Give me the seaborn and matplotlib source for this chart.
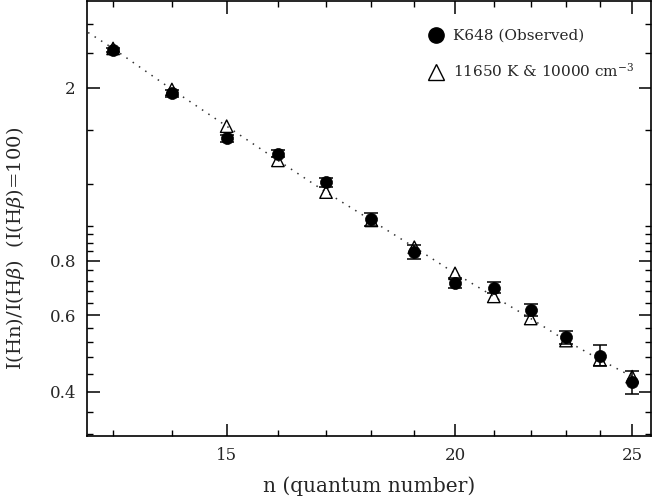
import numpy as np
import pandas as pd
import matplotlib
matplotlib.use("Agg")
import matplotlib.pyplot as plt
from matplotlib.ticker import FixedLocator, FixedFormatter, NullFormatter
from matplotlib.lines import Line2D
import seaborn as sns

# Balmer line intensities relative to H-beta (H-beta = 100)
n_levels = [13, 14, 15, 16, 17, 18, 19, 20, 21, 22, 23, 24, 25]
observed = [2.44, 1.94, 1.53, 1.41, 1.21, 0.995, 0.838, 0.711, 0.694, 0.617, 0.533, 0.484, 0.420]
observed_err = [0.026, 0.034, 0.027, 0.028, 0.028, 0.033, 0.030, 0.019, 0.020, 0.019, 0.019, 0.027, 0.026]
model = [2.46, 1.98, 1.63, 1.36, 1.15, 0.99, 0.859, 0.748, 0.662, 0.589, 0.524, 0.474, 0.433]

# Model curve (starts one level lower so it runs to the left edge)
curve_n = [12] + n_levels
curve_val = [3.05] + model

obs_label = "K648 (Observed)"
model_label = r"11650 K & 10000 cm$^{-3}$"

y_major = [0.4, 0.6, 0.8, 2.0]
y_major_labels = ["0.4", "0.6", "0.8", "2"]
y_minor = [0.32, 0.36, 0.44, 0.48, 0.52, 0.56, 0.64, 0.68, 0.72, 0.76,
           0.84, 0.88, 0.92, 0.96, 1.2, 1.6, 2.4, 2.8]
x_major = [15, 20, 25]
x_major_labels = ["15", "20", "25"]
x_minor = [13, 14, 16, 17, 18, 19, 21, 22, 23, 24]

obs_df = pd.DataFrame({"n": n_levels, "ratio": observed, "err": observed_err})
mod_df = pd.DataFrame({"n": n_levels, "ratio": model})
curve_df = pd.DataFrame({"n": curve_n, "ratio": curve_val})

sns.set_theme(style="ticks")
plt.rcParams["font.family"] = ["DejaVu Serif"]
plt.rcParams["mathtext.fontset"] = "dejavuserif"

fig = plt.figure(figsize=(6.52, 4.99), dpi=100)
ax = fig.add_axes([87 / 652, 1 - 436 / 499, (651 - 87) / 652, 435 / 499])
ax.set_xscale("log")
ax.set_yscale("log")

sns.lineplot(data=curve_df, x="n", y="ratio", ax=ax, color="#333333",
             linewidth=1.1, dashes=False, zorder=1)
ax.lines[-1].set_dashes((1, 4))

ax.errorbar(obs_df["n"], obs_df["ratio"], yerr=obs_df["err"], fmt="none",
            ecolor="black", elinewidth=1.1, capsize=5, capthick=1.1, zorder=2)
sns.scatterplot(data=obs_df, x="n", y="ratio", ax=ax, marker="o", s=75,
                color="black", edgecolor="black", linewidth=0.5, zorder=3)
sns.scatterplot(data=mod_df, x="n", y="ratio", ax=ax, marker="^", s=80,
                facecolors="none", edgecolor="black", linewidth=1.0, zorder=4)

ax.set_xlim(12.58, 25.6)
ax.set_ylim(10 ** -0.5, 10 ** 0.5)

ax.xaxis.set_major_locator(FixedLocator(x_major))
ax.xaxis.set_major_formatter(FixedFormatter(x_major_labels))
ax.xaxis.set_minor_locator(FixedLocator(x_minor))
ax.xaxis.set_minor_formatter(NullFormatter())
ax.yaxis.set_major_locator(FixedLocator(y_major))
ax.yaxis.set_major_formatter(FixedFormatter(y_major_labels))
ax.yaxis.set_minor_locator(FixedLocator(y_minor))
ax.yaxis.set_minor_formatter(NullFormatter())

ax.tick_params(which="both", direction="in", top=True, right=True,
               color="black", labelsize=12)
ax.tick_params(which="major", length=9, width=1.1)
ax.tick_params(which="minor", length=4.5, width=1.0)
ax.tick_params(axis="x", which="major", pad=8)
ax.tick_params(axis="y", which="major", pad=8)
for side in ax.spines.values():
    side.set_linewidth(1.2)
    side.set_color("black")

ax.set_xlabel("n (quantum number)", fontsize=14.5)
ax.set_ylabel(r"I(Hn)/I(H$\beta$)  (I(H$\beta$)=100)", fontsize=14)
ax.xaxis.set_label_coords(0.5, -0.093)
ax.yaxis.set_label_coords(-0.106, 0.43)

handles = [
    Line2D([], [], marker="o", linestyle="none", color="black", markersize=11),
    Line2D([], [], marker="^", linestyle="none", markerfacecolor="none",
           markeredgecolor="black", markersize=11, markeredgewidth=1.0),
]
ax.legend(handles, [obs_label, model_label], loc="upper left",
          bbox_to_anchor=(0.594, 0.95), frameon=False, fontsize=11,
          handlelength=1.0, handletextpad=0.6, labelspacing=1.26,
          borderaxespad=0)

fig.savefig("out.png", dpi=100)
